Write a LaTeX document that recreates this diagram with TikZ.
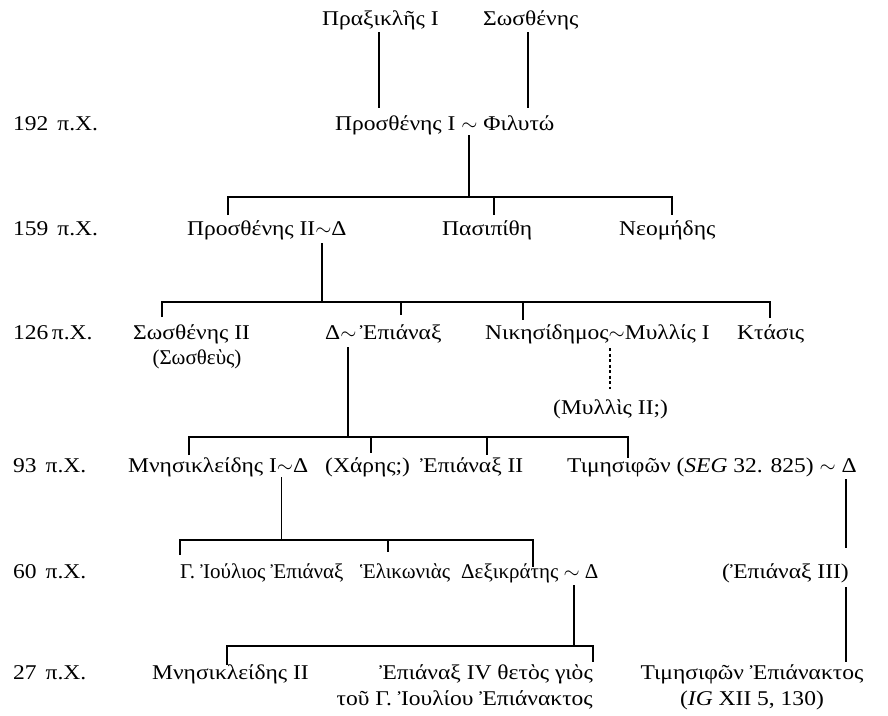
\documentclass[tikz,border=0pt]{standalone}
\usepackage{fontspec}
\setmainfont[FakeStretch=1.12]{Liberation Serif}
\newfontfamily\narrowgr{Liberation Serif}
\begin{document}
\begin{tikzpicture}[x=1pt,y=-1pt,
  every node/.style={inner sep=0pt, anchor=base west, font=\fontsize{21}{25}\selectfont},
  narrow/.style={font=\fontsize{21}{25}\narrowgr},
  ln/.style={line width=1.4pt},
  thinln/.style={line width=0.8pt},
  dotln/.style={line width=1.4pt, dash pattern=on 3pt off 2.5pt},
]
\useasboundingbox (0,0) rectangle (888,715);
\fill[white] (0,0) rectangle (888,715);

% row 0
\node (prax) at (322,25) {Πραξικλῆς I};
\node (sos) at (483,25) {Σωσθένης};
% row 1
\node (y192) at (13,130) {192\hspace{9pt}π.Χ.};
\node (pros1) at (335,130) {Προσθένης I $\sim$ Φιλυτώ};
% row 2
\node (y159) at (13,235) {159\hspace{9pt}π.Χ.};
\node (pros2) at (187,235) {Προσθένης II$\sim$Δ};
\node (pasi) at (442,235) {Πασιπίθη};
\node (neom) at (619,235) {Νεομήδης};
% row 3
\node (y126) at (13,339) {126\,π.Χ.};
\node (sos2) at (133,339) {Σωσθένης II};
\node[narrow, anchor=base] (sos2b) at (197,364) {(Σωσθεὺς)};
\node (epi1) at (325,339) {Δ$\sim$\,Ἐπιάναξ};
\node (nik) at (485,339) {Νικησίδημος$\sim$Μυλλίς I};
\node (ktas) at (737,339) {Κτάσις};
\node (myl2) at (553,414) {(Μυλλὶς II;)};
% row 4
\node (y93) at (13,472) {93\hspace{9pt}π.Χ.};
\node (mnes1) at (128,472) {Μνησικλείδης I$\sim$Δ};
\node (char) at (325,472) {(Χάρης;)};
\node (epi2) at (420,472) {Ἐπιάναξ II};
\node (tim1) at (567,472) {Τιμησιφῶν (\textit{SEG} 32. 825) $\sim$ Δ};
% row 5
\node (y60) at (13,578) {60\hspace{9pt}π.Χ.};
\node[narrow] (iul) at (180,578) {Γ. Ἰούλιος Ἐπιάναξ};
\node[narrow] (elik) at (360,578) {Ἑλικωνιὰς};
\node[narrow] (dexi) at (461,578) {Δεξικράτης $\sim$ Δ};
\node (epi3) at (722,578) {(Ἐπιάναξ III)};
% row 6
\node (y27) at (13,679) {27\hspace{9pt}π.Χ.};
\node (mnes2) at (152,679) {Μνησικλείδης II};
\node[anchor=base east] (epi4a) at (593,679) {Ἐπιάναξ IV θετὸς γιὸς};
\node[anchor=base east] (epi4b) at (593,705) {τοῦ Γ. Ἰουλίου Ἐπιάνακτος};
\node[anchor=base] (tim2) at (752,679) {Τιμησιφῶν Ἐπιάνακτος};
\node[anchor=base] (ig) at (752,705) {(\textit{IG} XII 5, 130)};

% junction coordinates
\coordinate (a1) at (379,32);  \coordinate (a2) at (379,108);
\coordinate (b1) at (528,32);  \coordinate (b2) at (528,108);
\coordinate (c0) at (469,135); \coordinate (c1) at (469,197);
\coordinate (cL) at (228,197); \coordinate (cR) at (672,197);
\coordinate (cM) at (494,197);
\coordinate (d0) at (322,243); \coordinate (d1) at (322,302);
\coordinate (dL) at (162,302); \coordinate (dR) at (770,302);
\coordinate (dM1) at (401,302); \coordinate (dM2) at (523,302);
\coordinate (e0) at (348,347); \coordinate (e1) at (348,437);
\coordinate (eL) at (189,437); \coordinate (eR) at (628,437);
\coordinate (eM1) at (371,437); \coordinate (eM2) at (487,437);
\coordinate (m0) at (610,348); \coordinate (m1) at (610,389);
\coordinate (f0) at (281,477); \coordinate (f1) at (281,540);
\coordinate (fL) at (180,540); \coordinate (fR) at (533,540);
\coordinate (fM) at (388,540);
\coordinate (t0) at (846,479); \coordinate (t1) at (846,548);
\coordinate (t2) at (846,587); \coordinate (t3) at (846,662);
\coordinate (g0) at (574,585); \coordinate (g1) at (574,646);
\coordinate (gL) at (227,646); \coordinate (gR) at (593,646);

% connectors
\draw[ln] (a1) -- (a2);
\draw[ln] (b1) -- (b2);
\draw[ln] (c0) -- (c1);
\draw[ln] (cL) ++(0,18) -- (cL) -- (cR) -- ++(0,18);
\draw[ln] (cM) -- ++(0,18);
\draw[ln] (d0) -- (d1);
\draw[ln] (dL) ++(0,15) -- (dL) -- (dR) -- ++(0,16);
\draw[ln] (dM1) -- ++(0,13);
\draw[ln] (dM2) -- ++(0,18);
\draw[ln] (e0) -- (e1);
\draw[dotln] (m0) -- (m1);
\draw[ln] (eL) ++(0,18) -- (eL) -- (eR) -- ++(0,21);
\draw[ln] (eM1) -- ++(0,16);
\draw[ln] (eM2) -- ++(0,18);
\draw[thinln] (f0) -- (f1);
\draw[ln] (fL) ++(0,15) -- (fL) -- (fR) -- ++(0,27);
\draw[ln] (fM) -- ++(0,12);
\draw[ln] (t0) -- (t1);
\draw[ln] (t2) -- (t3);
\draw[ln] (g0) -- (g1);
\draw[ln] (gL) ++(0,19) -- (gL) -- (gR) -- ++(0,16);
\end{tikzpicture}
\end{document}
